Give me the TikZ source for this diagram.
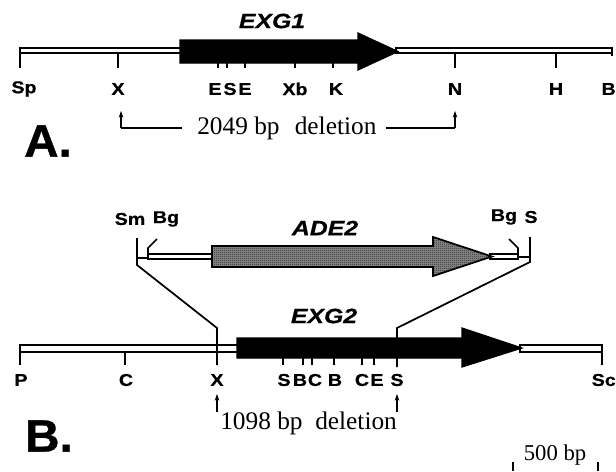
\documentclass[tikz,border=0pt]{standalone}
\usepackage{fontspec}
\setmainfont{Liberation Serif}
\newfontfamily\labfont[FakeStretch=1.15,FakeBold=0.6]{Liberation Sans Bold}
\newfontfamily\genefont[FakeStretch=1.2,FakeBold=0.6]{Liberation Sans Bold Italic}
\newfontfamily\bigfont[FakeStretch=1.05,FakeBold=0.8]{Liberation Sans Bold}
\usetikzlibrary{arrows.meta,patterns}
\pgfdeclarepatternformonly{finecheck}{\pgfqpoint{0pt}{0pt}}{\pgfqpoint{1.5pt}{1.5pt}}{\pgfqpoint{1.5pt}{1.5pt}}{%
  \pgfpathrectangle{\pgfqpoint{0pt}{0pt}}{\pgfqpoint{0.75pt}{0.75pt}}%
  \pgfpathrectangle{\pgfqpoint{0.75pt}{0.75pt}}{\pgfqpoint{0.75pt}{0.75pt}}%
  \pgfusepath{fill}}
\begin{document}
\begin{tikzpicture}[x=0.75pt,y=-0.75pt,
  band/.style={draw=black,line width=1.1pt,fill=white},
  gene/.style={draw=black,line width=0.9pt,fill=black},
  stip/.style={draw=black,line width=1.3pt,preaction={fill=black!45},pattern=finecheck,pattern color=black!85},
  lab/.style={font=\labfont\fontsize{12.8}{14}\selectfont,inner sep=0pt,anchor=center},
  tk/.style={line width=1.3pt},
  genename/.style={font=\genefont\fontsize{15.5}{17}\selectfont,inner sep=0pt},
  ser/.style={font=\fontsize{19}{22}\selectfont,inner sep=0pt},
  panel/.style={font=\bigfont\fontsize{34}{36}\selectfont,inner sep=0pt},
  delarrow/.style={line width=1pt,-{Stealth[length=5pt,width=3.5pt]}}]
\fill[white] (0,0) rectangle (616,471);
\useasboundingbox (0,0) rectangle (616,471);

%%%%%%%%%%%%%%%% Panel A
\draw[band] (20,48) rectangle (182,53);
\draw[band] (396,48) rectangle (612,53);
\filldraw[gene] (180,40) -- (358,40) -- (358,33) -- (398,51.5) -- (358,70) -- (358,63) -- (180,63) -- cycle;
\node[genename] (exg1) at (272,21) {EXG1};
% ticks
\draw[tk] (20,48) -- (20,68);
\draw[tk] (118,53) -- (118,68);
\draw[tk] (218,63) -- (218,68);
\draw[tk] (227,63) -- (227,68);
\draw[tk] (245,63) -- (245,68);
\draw[tk] (295,63) -- (295,68);
\draw[tk] (333,63) -- (333,68);
\draw[tk] (455,53) -- (455,68);
\draw[tk] (556,53) -- (556,68);
\draw[tk] (612,48) -- (612,56);
% labels
\node[lab] (aSp) at (24,89) {Sp};
\node[lab] (aX) at (118,89) {X};
\node[lab] (aE1) at (215,89) {E};
\node[lab] (aS) at (230,89) {S};
\node[lab] (aE2) at (245,89) {E};
\node[lab] (aXb) at (295,89) {Xb};
\node[lab] (aK) at (336,89) {K};
\node[lab] (aN) at (455,89) {N};
\node[lab] (aH) at (556,89) {H};
\node[lab,anchor=east] (aB) at (616,89) {B};
% deletion
\node[ser,anchor=west] (adel) at (197,128) {2049 bp\hspace{0.6em}deletion};
\coordinate (al) at (121,128);
\coordinate (ar) at (455,128);
\draw[line width=1pt] (adel.west) ++(-15,0) -- (al);
\draw[delarrow] (al) -- (121,111);
\draw[line width=1pt] (adel.east) ++(9,0) -- (ar);
\draw[delarrow] (ar) -- (455,111);
\node[panel] (pA) at (48,141) {A.};

%%%%%%%%%%%%%%%% Panel B : ADE2 insert
\draw[band] (148,254) rectangle (214,259);
\draw[band] (490,254) rectangle (518,259);
\filldraw[stip] (212,246) -- (433,246) -- (433,237) -- (492,256.5) -- (433,276) -- (433,267) -- (212,267) -- cycle;
\node[genename] (ade2) at (325,228) {ADE2};
% left end
\draw[tk] (137,238) -- (137,265) -- (217,328) -- (217,365);
\draw[tk] (137,258) -- (148,258);
\draw[tk] (148,258) -- (148,248) -- (157,239);
% right end
\draw[tk] (530,237) -- (530,262) -- (397,328) -- (397,367);
\draw[tk] (518,257) -- (530,257);
\draw[tk] (518,257) -- (518,248) -- (509,239);
\node[lab] (bSm) at (130,219) {Sm};
\node[lab] (bBg1) at (166,219) {Bg};
\node[lab] (bBg2) at (504,217) {Bg};
\node[lab] (bS0) at (531,217) {S};

%%%%%%%%%%%%%%%% Panel B : EXG2
\draw[band] (20,345) rectangle (239,352);
\draw[band] (520,345) rectangle (602,352);
\filldraw[gene] (237,338) -- (462,338) -- (462,328) -- (522,348) -- (462,367) -- (462,358) -- (237,358) -- cycle;
\draw[tk] (217,328) -- (217,365);
\draw[tk] (397,330) -- (397,367);
\node[genename] (exg2) at (324,316) {EXG2};
% ticks
\draw[tk] (20,345) -- (20,365);
\draw[tk] (125,352) -- (125,365);
\draw[tk] (283,358) -- (283,365);
\draw[tk] (303,358) -- (303,365);
\draw[tk] (312,358) -- (312,365);
\draw[tk] (334,358) -- (334,365);
\draw[tk] (362,358) -- (362,365);
\draw[tk] (374,358) -- (374,365);
\draw[tk] (602,345) -- (602,365);
% labels
\node[lab] (bP) at (21,380) {P};
\node[lab] (bC1) at (126,380) {C};
\node[lab] (bX) at (217,380) {X};
\node[lab] (bS1) at (284,380) {S};
\node[lab] (bB1) at (300,380) {B};
\node[lab] (bC2) at (315,380) {C};
\node[lab] (bB2) at (335,380) {B};
\node[lab] (bC3) at (362,380) {C};
\node[lab] (bE) at (377,380) {E};
\node[lab] (bS2) at (397,380) {S};
\node[lab,anchor=east] (bSc) at (616,380) {Sc};
% deletion
\coordinate (bl) at (217,412);
\coordinate (br) at (397,412);
\draw[delarrow] (bl) -- (217,394);
\draw[delarrow] (br) -- (397,394);
\node[ser,anchor=west] (bdel) at (220,423) {1098 bp\enspace deletion};
\node[panel] (pB) at (49,436) {B.};

% scale bar
\node[font=\fontsize{17}{18}\selectfont,inner sep=0pt] (scale) at (555,455) {500 bp};
\coordinate (s1) at (513,462);
\coordinate (s2) at (598,462);
\draw[tk] (s1) -- (513,471);
\draw[tk] (s2) -- (598,471);
\end{tikzpicture}
\end{document}
